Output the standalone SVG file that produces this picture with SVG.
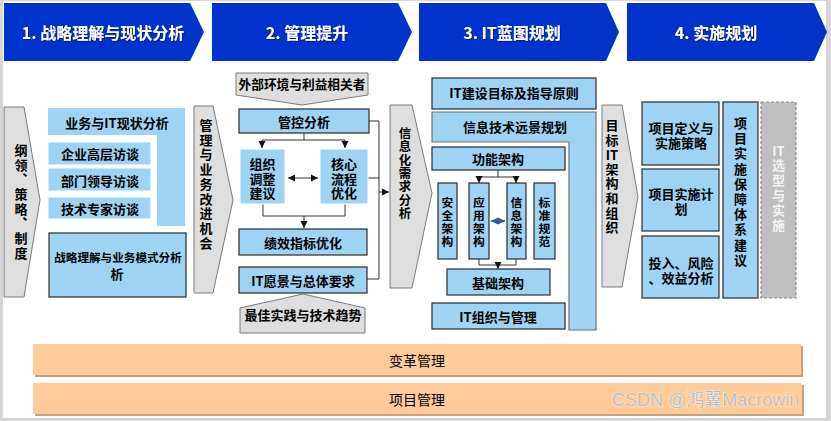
<svg xmlns="http://www.w3.org/2000/svg" width="831" height="421" viewBox="0 0 831 421">
<style>
.t{font-family:"Noto Sans CJK SC","Noto Sans",sans-serif;font-weight:bold;font-size:13px;text-anchor:middle;dominant-baseline:central;fill:#000}
.vt{writing-mode:vertical-rl;text-anchor:start}
.h{font-size:16px;fill:#fff}
.v{font-size:11.8px;letter-spacing:0.9px}
.hd{fill:#0033cc}
.lb{fill:#9ed3f4}
.bx{fill:#9ed3f4;stroke:#2b2b2b;stroke-width:1.2}
.bw{fill:#9ed3f4;stroke:#ffffff;stroke-width:1}
.ga{fill:#dedede;stroke:#7a7a7a;stroke-width:1}
.ln{fill:none;stroke:#333;stroke-width:1}
.bar{fill:#ffcc99}
.bsh{fill:#c8a07a}
.bt{font-weight:normal;font-size:14px}
</style>
<defs>
<marker id="ah" markerUnits="userSpaceOnUse" markerWidth="8" markerHeight="8" refX="7" refY="4" orient="auto-start-reverse">
<path d="M0,0.5 L7,4 L0,7.5 Z" fill="#111"/>
</marker>
<marker id="ab" markerUnits="userSpaceOnUse" markerWidth="8" markerHeight="8" refX="7" refY="4" orient="auto-start-reverse">
<path d="M0,0.5 L7,4 L0,7.5 Z" fill="#2e5c99"/>
</marker>
<filter id="sh" x="-10%" y="-30%" width="120%" height="160%">
<feDropShadow dx="1" dy="1" stdDeviation="0.6" flood-color="#001a66" flood-opacity="0.9"/>
</filter>
<clipPath id="wc"><rect x="0" y="0" width="803" height="421"/></clipPath>
</defs>
<rect width="831" height="421" fill="#fff"/>
<path d="M0,0H831V421H0Z M3,1V418H826V1Z" fill="#d6d6d6" fill-rule="evenodd"/>

<g id="headers">
<g id="h1"><path class="hd" d="M4,3H190L204,32L190,61H4Z"/><text class="t h" x="103" y="32" filter="url(#sh)">1. 战略理解与现状分析</text></g>
<g id="h2"><path class="hd" d="M212,3H398L412,32L398,61H212Z"/><text class="t h" x="307" y="32" filter="url(#sh)">2. 管理提升</text></g>
<g id="h3"><path class="hd" d="M419,3H606L619,32L606,61H419Z"/><text class="t h" x="512" y="32" filter="url(#sh)">3. IT蓝图规划</text></g>
<g id="h4"><path class="hd" d="M627,3H814L827,32L814,61H627Z"/><text class="t h" x="716" y="32" filter="url(#sh)">4. 实施规划</text></g>
</g>

<g id="connectors">
<path class="ln" d="M304,133V140M262,140H345"/>
<path class="ln" d="M262,140V148" marker-end="url(#ah)"/>
<path class="ln" d="M345,140V148" marker-end="url(#ah)"/>
<path class="ln" d="M288,178H318" marker-start="url(#ah)" marker-end="url(#ah)"/>
<path class="ln" d="M263,204V216H345V204"/>
<path class="ln" d="M304,216V228" marker-end="url(#ah)"/>
<path class="ln" d="M369,121H379V279H367M368,178H379"/>
<path class="ln" d="M379,192H389" marker-end="url(#ah)"/>
<path class="ln" d="M498,170V177M479,177H516"/>
<path class="ln" d="M479,177V183" marker-end="url(#ah)"/>
<path class="ln" d="M516,177V183" marker-end="url(#ah)"/>
<path d="M491,221H505" fill="none" stroke="#2e5c99" stroke-width="1.5" marker-start="url(#ab)" marker-end="url(#ab)"/>
<path class="ln" d="M479,259V265H516V259"/>
<path class="ln" d="M498,265V269" marker-end="url(#ah)"/>
</g>

<g id="n-gangling">
<path class="ga" d="M4,107H24L40,200L24,297H4Z"/>
<text class="t vt" style="letter-spacing:1.7px" x="21" y="143.5">纲领、策略、制度</text>
</g>
<g id="n-xianzhuang">
<path class="lb" d="M48,108H185V226H157V135H48Z"/>
<text class="t" x="117" y="122">业务与IT现状分析</text>
</g>
<g id="n-gaoceng"><rect class="bw" x="48" y="142" width="103" height="23"/><text class="t" x="100" y="153.5">企业高层访谈</text></g>
<g id="n-bumen"><rect class="bw" x="48" y="168" width="103" height="23"/><text class="t" x="100" y="180">部门领导访谈</text></g>
<g id="n-jishu"><rect class="bw" x="48" y="197" width="103" height="22"/><text class="t" x="100" y="208">技术专家访谈</text></g>
<g id="n-zhanlue"><rect class="bx" x="49" y="233" width="137" height="64"/><text class="t" style="font-size:11.6px" x="118" y="257">战略理解与业务模式分析</text><text class="t" x="117" y="273">析</text></g>
<g id="n-guanli">
<path class="ga" d="M194,106H213L233,200L213,293H194Z"/>
<text class="t vt" style="letter-spacing:1.75px" x="206" y="118.5">管理与业务改进机会</text>
</g>

<g id="n-waibu">
<path class="ga" d="M236,73H368V95L302,105L236,95Z"/>
<text class="t" style="font-size:12.7px" x="302" y="83">外部环境与利益相关者</text>
</g>
<g id="n-guankong"><rect class="bx" x="239" y="109" width="130" height="24"/><text class="t" x="304" y="121">管控分析</text></g>
<g id="n-zuzhi"><rect class="bw" x="240" y="149" width="45" height="55"/><text class="t"><tspan x="262.5" y="163">组织</tspan><tspan x="262.5" y="177.5">调整</tspan><tspan x="262.5" y="192">建议</tspan></text></g>
<g id="n-hexin"><rect class="bw" x="320" y="149" width="48" height="55"/><text class="t"><tspan x="344" y="163">核心</tspan><tspan x="344" y="177.5">流程</tspan><tspan x="344" y="192">优化</tspan></text></g>
<g id="n-jixiao"><rect class="bx" x="239" y="229" width="128" height="26"/><text class="t" x="303" y="242">绩效指标优化</text></g>
<g id="n-yuanjing"><rect class="bx" x="239" y="267" width="128" height="26"/><text class="t" x="303" y="280">IT愿景与总体要求</text></g>
<g id="n-zuijia">
<path class="ga" d="M303,294L365,308V333H240V308Z"/>
<text class="t" x="303" y="314">最佳实践与技术趋势</text>
</g>
<g id="n-xuqiu">
<path class="ga" d="M390,105H412L432,193L412,288H390Z"/>
<text class="t vt" style="font-size:12.4px;letter-spacing:1px" x="405" y="126.8">信息化需求分析</text>
</g>

<g id="n-mubiao"><rect class="bx" x="432" y="78" width="164" height="31"/><text class="t" x="514" y="92">IT建设目标及指导原则</text></g>
<g id="n-yuanjingguihua">
<path d="M432,112H596V330H569V142H432Z" fill="#9ed3f4" stroke="#6f6f6f" stroke-width="1.2"/>
<text class="t" x="515" y="126">信息技术远景规划</text>
</g>
<g id="n-gongneng"><rect class="bx" x="432" y="147" width="133" height="23"/><text class="t" x="498" y="158.5">功能架构</text></g>
<g id="n-anquan"><rect class="bx" x="438" y="183" width="19" height="76"/><text class="t vt v" x="447.5" y="197.1">安全架构</text></g>
<g id="n-yingyong"><rect class="bx" x="469" y="183" width="20" height="76"/><text class="t vt v" x="479" y="197.1">应用架构</text></g>
<g id="n-xinxi"><rect class="bx" x="507" y="183" width="19" height="76"/><text class="t vt v" x="516.5" y="197.1">信息架构</text></g>
<g id="n-biaozhun"><rect class="bx" x="534" y="183" width="21" height="76"/><text class="t vt v" x="544.5" y="197.1">标准规范</text></g>
<g id="n-jichu"><rect class="bx" x="447" y="269" width="103" height="26"/><text class="t" x="498" y="282">基础架构</text></g>
<g id="n-itzuzhi"><rect class="bx" x="432" y="303" width="133" height="26"/><text class="t" x="498" y="316">IT组织与管理</text></g>
<g id="n-mubiaoit">
<path class="ga" d="M602,105H622L638,197L622,287H602Z"/>
<text class="t vt" style="letter-spacing:1.6px" x="612" y="118.5">目标</text>
<text class="t" x="612" y="154.2">IT</text>
<text class="t vt" style="letter-spacing:1.6px" x="612" y="162.3">架构和组织</text>
</g>

<g id="n-xiangmudingyi"><rect class="bx" x="642" y="102" width="77" height="63"/><text class="t"><tspan x="681" y="127">项目定义与</tspan><tspan x="681" y="142">实施策略</tspan></text></g>
<g id="n-jihua"><rect class="bx" x="642" y="169" width="77" height="62"/><text class="t"><tspan x="681" y="193">项目实施计</tspan><tspan x="681" y="208">划</tspan></text></g>
<g id="n-touru"><rect class="bx" x="642" y="236" width="77" height="62"/><text class="t"><tspan x="681" y="262">投入、风险</tspan><tspan x="681" y="277">、效益分析</tspan></text></g>
<g id="n-baozhang"><rect class="bx" x="723" y="102" width="35" height="196"/><text class="t vt" style="letter-spacing:2.2px" x="740.5" y="116.5">项目实施保障体系建议</text></g>
<g id="n-xuanxing"><rect x="761" y="102" width="35" height="196" fill="#bfbfbf" stroke="#8c8c8c" stroke-width="1.2" stroke-dasharray="3,2"/><text class="t" style="fill:#f4f4f4" x="778.5" y="150">IT</text><text class="t vt" style="fill:#f4f4f4;letter-spacing:2px" x="778.5" y="158.5">选型与实施</text></g>

<g id="n-biange"><rect class="bsh" x="35" y="346" width="768" height="31"/><rect class="bar" x="33" y="344" width="768" height="31"/><text class="t bt" x="417" y="360">变革管理</text></g>
<g id="n-xiangmu"><rect class="bsh" x="35" y="385" width="769" height="31"/><rect class="bar" x="33" y="383" width="769" height="31"/><text class="t bt" x="417" y="399">项目管理</text></g>

<g id="watermark" clip-path="url(#wc)"><text x="612" y="406" style="font-family:'Liberation Sans','Noto Sans CJK SC',sans-serif;font-size:18px;fill:#bdbdbd;stroke:#ffffff;stroke-width:0.6;paint-order:stroke">CSDN @鸿翼Macrowin</text></g>
</svg>
